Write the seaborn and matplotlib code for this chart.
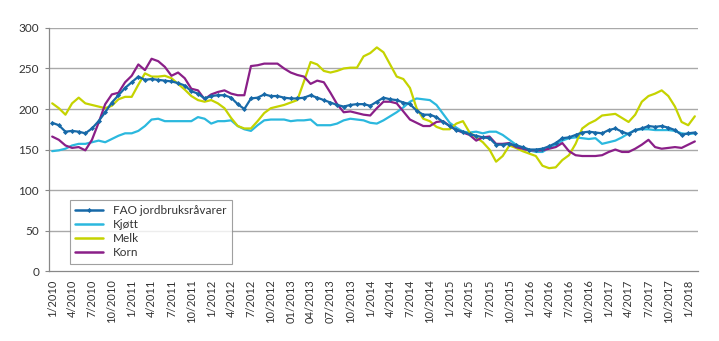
import matplotlib
matplotlib.use("Agg")
import matplotlib.pyplot as plt
import numpy as np
import pandas as pd
import seaborn as sns

# Monthly index values, January 2010 - February 2018
fao = [183, 180, 172, 173, 172, 170, 176, 185, 196, 208, 217, 226, 233, 240, 236, 237,
       236, 235, 234, 232, 229, 222, 219, 213, 216, 217, 217, 214, 206, 200, 213, 214,
       218, 216, 216, 214, 213, 213, 214, 217, 214, 211, 208, 205, 203, 205, 206, 206,
       204, 209, 214, 212, 211, 208, 206, 198, 193, 193, 190, 184, 179, 174, 172, 169,
       167, 165, 164, 156, 156, 157, 155, 153, 150, 150, 151, 154, 158, 164, 165, 168,
       171, 172, 171, 170, 174, 176, 172, 169, 174, 176, 179, 178, 179, 177, 174, 168,
       170, 171]
kjott = [148, 149, 151, 155, 157, 157, 159, 161, 159, 163, 167, 170, 170, 173, 179, 187,
         188, 185, 185, 185, 185, 185, 190, 188, 182, 185, 185, 186, 179, 175, 173, 180,
         186, 187, 187, 187, 185, 186, 186, 187, 180, 180, 180, 182, 186, 188, 187, 186,
         183, 182, 186, 191, 196, 202, 209, 213, 212, 211, 205, 194, 183, 177, 172, 171,
         172, 170, 172, 172, 168, 162, 156, 152, 149, 147, 147, 152, 156, 161, 164, 165,
         164, 163, 164, 157, 159, 161, 165, 170, 174, 175, 175, 174, 174, 174, 173, 170,
         169, 170]
melk = [207, 201, 193, 207, 214, 207, 205, 203, 201, 204, 212, 215, 215, 230, 244, 240,
        240, 241, 238, 231, 224, 216, 211, 209, 211, 207, 201, 189, 179, 176, 176, 185,
        195, 201, 203, 205, 208, 211, 234, 258, 255, 247, 245, 247, 250, 251, 251, 265,
        269, 276, 270, 255, 240, 237, 226, 201, 188, 185, 178, 175, 175, 182, 185, 171,
        165, 159, 150, 135, 142, 155, 152, 148, 145, 142, 130, 127, 128, 137, 143, 157,
        176, 182, 186, 192, 193, 194, 189, 184, 193, 209, 216, 219, 223, 216, 203, 184,
        180, 191]
korn = [166, 162, 155, 152, 153, 149, 162, 183, 206, 218, 220, 233, 241, 255, 248, 262,
        259, 252, 241, 245, 238, 225, 223, 212, 218, 221, 223, 219, 217, 217, 253, 254,
        256, 256, 256, 250, 245, 242, 240, 231, 235, 233, 220, 206, 196, 197, 195, 193,
        192, 201, 209, 209, 207, 197, 187, 183, 179, 179, 184, 185, 179, 174, 171, 168,
        161, 165, 166, 157, 157, 158, 153, 151, 149, 149, 149, 151, 153, 158, 148, 143,
        142, 142, 142, 143, 147, 150, 147, 147, 151, 156, 162, 153, 151, 152, 153, 152,
        156, 160]

series_names = ["FAO jordbruksråvarer", "Kjøtt", "Melk", "Korn"]
series_values = [fao, kjott, melk, korn]
colors = ["#1769a8", "#2bb8de", "#c5d300", "#8a1f88"]

tick_labels = ["1/2010", "4/2010", "7/2010", "10/2010",
               "1/2011", "4/2011", "7/2011", "10/2011",
               "1/2012", "4/2012", "7/2012", "10/2012",
               "01/2013", "04/2013", "07/2013", "10/2013",
               "1/2014", "4/2014", "7/2014", "10/2014",
               "1/2015", "4/2015", "7/2015", "10/2015",
               "1/2016", "4/2016", "7/2016", "10/2016",
               "1/2017", "4/2017", "7/2017", "10/2017",
               "1/2018"]

n = len(fao)
frames = []
for name, vals in zip(series_names, series_values):
    frames.append(pd.DataFrame({"maaned": np.arange(n), "indeks": vals, "serie": name}))
df = pd.concat(frames, ignore_index=True)

sns.set_theme(style="white")
plt.rcParams["font.family"] = ["Lato", "DejaVu Sans"]
plt.rcParams["text.color"] = "#333333"

fig = plt.figure(figsize=(7.19, 3.41), dpi=100)
ax = fig.add_axes([0.068, 0.205, 0.903, 0.713])

# Draw the other series first, the FAO index on top
zorders = {"FAO jordbruksråvarer": 5, "Kjøtt": 2, "Melk": 3, "Korn": 4}
for name, col in zip(series_names, colors):
    sub = df[df["serie"] == name]
    kw = dict(marker="D", markersize=2.6, markeredgewidth=0) if name == series_names[0] else {}
    sns.lineplot(data=sub, x="maaned", y="indeks", color=col, linewidth=1.6,
                 label=name, ax=ax, zorder=zorders[name], **kw)

ax.set_xlim(-0.5, n - 0.5)
ax.set_ylim(0, 300)
ax.set_yticks(np.arange(0, 301, 50))
ax.set_xticks(np.arange(0, n, 3)[:len(tick_labels)])
ax.set_xticklabels(tick_labels, rotation=90, fontsize=8)
ax.set_xticks(np.arange(-0.5, n, 1), minor=True)
ax.tick_params(axis="x", which="major", length=0, pad=6, colors="#333333")
ax.tick_params(axis="x", which="minor", length=3.5, width=0.8, color="#888888", direction="out")
ax.tick_params(axis="y", which="major", length=3, width=0.8, color="#888888",
               labelsize=8.5, labelcolor="#333333", pad=4, left=True)
ax.set_xlabel("")
ax.set_ylabel("")

for y in range(50, 301, 50):
    ax.axhline(y, color="#a9a9a9", linewidth=1.0, zorder=0)

for side in ["top", "right"]:
    ax.spines[side].set_visible(False)
for side in ["left", "bottom"]:
    ax.spines[side].set_color("#888888")
    ax.spines[side].set_linewidth(0.9)

leg = ax.legend(loc="upper left", bbox_to_anchor=(0.032, 0.292), borderaxespad=0,
                frameon=True, fancybox=False, fontsize=8.5, handlelength=2.4,
                labelspacing=0.25, borderpad=0.45, handletextpad=0.8)
leg.get_frame().set_edgecolor("#888888")
leg.get_frame().set_linewidth(0.8)
for line in leg.get_lines():
    line.set_linewidth(1.8)

fig.savefig("out.png", dpi=100)
